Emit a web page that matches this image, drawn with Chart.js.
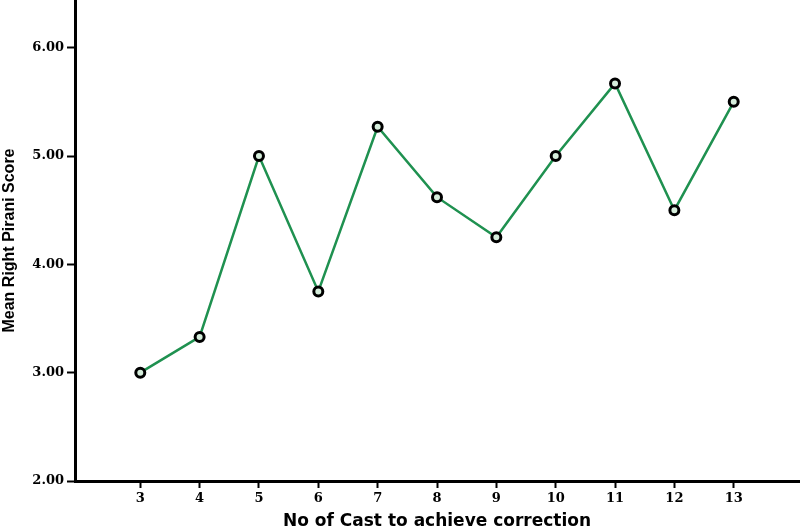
<!DOCTYPE html>
<html>
<head>
<meta charset="utf-8">
<script src="https://cdn.jsdelivr.net/npm/chart.js@4"></script>
<style>
    html, body { margin: 0; padding: 0; background: #FFFFFF; }
    canvas { display: block; }
</style>
</head>
<body>
<canvas id="piraniChart" width="801" height="532"></canvas>
<script>
    // Mean right Pirani score by number of casts
    const castCounts = [3, 4, 5, 6, 7, 8, 9, 10, 11, 12, 13];
    const meanPirani = [3.00, 3.33, 5.00, 3.75, 5.27, 4.62, 4.25, 5.00, 5.67, 4.50, 5.50];
    const yTicks = [2, 3, 4, 5, 6];

    const tickFont = {
        family: '"DejaVu Serif", "Liberation Serif", serif',
        size: 13,
        weight: 'bold',
    };

    new Chart(document.getElementById('piraniChart'), {
        type: 'line',
        data: {
            datasets: [
                {
                    label: 'Mean Right Pirani Score',
                    data: castCounts.map((c, i) => ({ x: c, y: meanPirani[i] })),
                    borderColor: '#1F9150',
                    borderWidth: 2.5,
                    pointRadius: 4.5,
                    pointBorderWidth: 3,
                    pointBorderColor: '#000000',
                    pointBackgroundColor: '#D6EEDC',
                    tension: 0,
                    clip: false,
                },
            ],
        },
        options: {
            responsive: false,
            animation: false,
            layout: {
                autoPadding: false,
                padding: { top: 0, right: 2, left: 0, bottom: 0 },
            },
            plugins: {
                legend: { display: false },
                tooltip: { enabled: false },
            },
            scales: {
                x: {
                    type: 'linear',
                    min: 1.9,
                    max: 14.1,
                    afterBuildTicks: scale => {
                        scale.ticks = castCounts.map(v => ({ value: v }));
                    },
                    afterFit: scale => {
                        // no room reserved for the end labels, the axis runs to the edge
                        scale.height = 51;
                        scale.paddingLeft = 0;
                        scale.paddingRight = 0;
                    },
                    ticks: {
                        color: '#000000',
                        font: tickFont,
                        padding: 3,
                        maxRotation: 0,
                        callback: v => String(v),
                    },
                    grid: {
                        drawOnChartArea: false,
                        tickLength: 7,
                        tickWidth: 2,
                        tickColor: '#000000',
                    },
                    border: { color: '#000000', width: 3 },
                    title: {
                        display: true,
                        text: 'No of Cast to achieve correction',
                        color: '#000000',
                        font: { family: '"DejaVu Sans", Verdana, sans-serif', size: 17, weight: 'bold' },
                        padding: { top: 0, bottom: 0 },
                    },
                },
                y: {
                    min: 2,
                    max: 6.44,
                    afterBuildTicks: scale => {
                        scale.ticks = yTicks.map(v => ({ value: v }));
                    },
                    afterFit: scale => {
                        scale.width = 75;
                        scale.paddingTop = 0;
                        scale.paddingBottom = 0;
                    },
                    ticks: {
                        color: '#000000',
                        font: tickFont,
                        padding: 3,
                        callback: v => v.toFixed(2),
                    },
                    grid: {
                        drawOnChartArea: false,
                        tickLength: 8,
                        tickWidth: 2,
                        tickColor: '#000000',
                    },
                    border: { color: '#000000', width: 3 },
                    title: {
                        display: true,
                        text: 'Mean Right Pirani Score',
                        color: '#000000',
                        font: { family: '"Liberation Sans Narrow", "Liberation Sans", Arial, sans-serif', size: 16, weight: 'bold' },
                        padding: { top: 0, bottom: 0 },
                    },
                },
            },
        },
    });
</script>
</body>
</html>
